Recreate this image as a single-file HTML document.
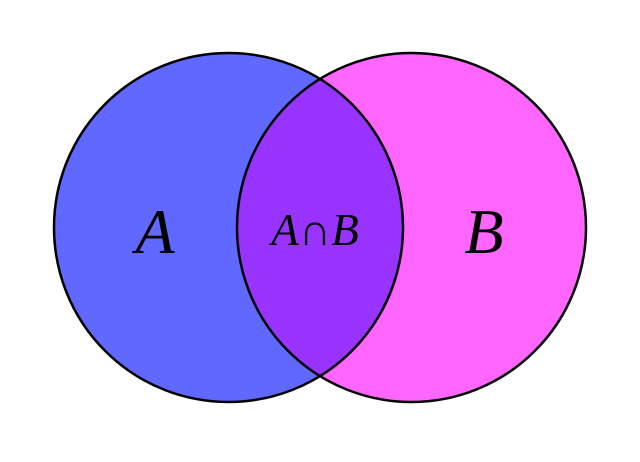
<!DOCTYPE html>
<html><head><style>html,body{margin:0;padding:0;background:#fff;}</style></head>
<body>
<svg width="640" height="457" xmlns="http://www.w3.org/2000/svg">
<defs><clipPath id="c"><circle cx="228.5" cy="227.5" r="174.5"/></clipPath></defs>
<circle cx="228.5" cy="227.5" r="174.5" fill="#6068ff"/>
<circle cx="411.5" cy="227.5" r="174.5" fill="#ff66ff"/>
<circle cx="411.5" cy="227.5" r="174.5" fill="#9933ff" clip-path="url(#c)"/>
<circle cx="228.5" cy="227.5" r="174.5" fill="none" stroke="#000" stroke-width="2.5"/>
<circle cx="411.5" cy="227.5" r="174.5" fill="none" stroke="#000" stroke-width="2.5"/>
<g font-family="Liberation Serif, serif" font-style="italic" fill="#000" text-anchor="middle">
<text x="155" y="253" font-size="64">A</text>
<text x="484" y="253" font-size="64">B</text>
<text x="315" y="245" font-size="45">A<tspan font-style="normal">∩</tspan>B</text>
</g>
</svg>
</body></html>
